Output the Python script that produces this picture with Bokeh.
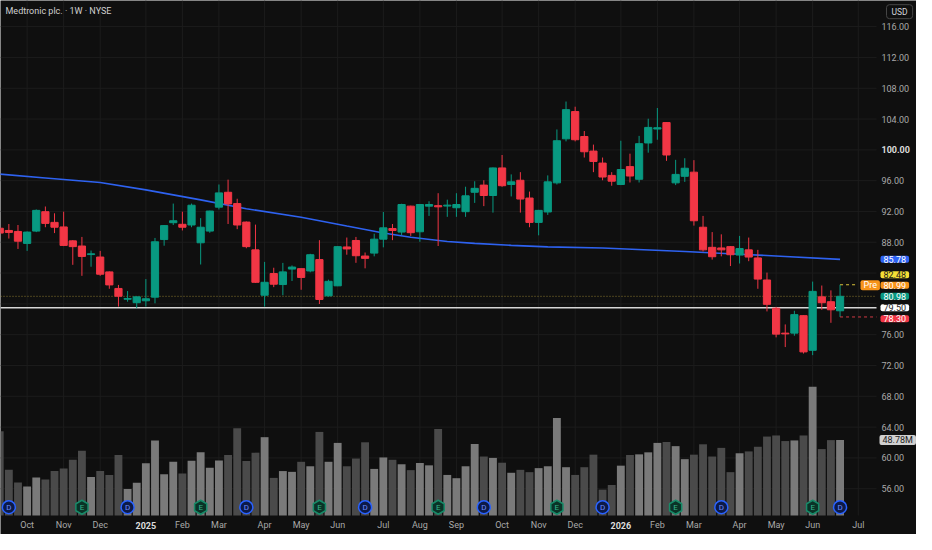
from bokeh.plotting import figure
from bokeh.models import Range1d, Label, ColumnDataSource
from bokeh.embed import file_html
from bokeh.resources import INLINE
from bokeh.core.properties import value

TITLE = "Medtronic plc. · 1W · NYSE"

# weekly bars, bar 1 = week of 2024-09-09 ... bar 93 = week of 2026-06-15
OPEN = [89.82, 89.53, 89.40, 87.85, 89.45, 91.97, 90.58, 89.99, 88.18, 87.51,
        86.40, 86.08, 84.15, 82.00, 80.60, 80.15, 80.40, 80.87, 88.35, 90.54,
        90.33, 90.24, 87.93, 89.45, 92.56, 94.49, 93.02, 90.62, 87.01, 81.12,
        83.94, 82.51, 84.52, 84.57, 84.27, 85.75, 81.04, 82.34, 87.39, 88.23,
        86.21, 86.59, 88.40, 89.78, 89.32, 92.69, 89.36, 92.69, 92.75, 92.70,
        92.48, 91.97, 94.49, 95.42, 94.07, 97.65, 95.50, 96.05, 93.74, 90.58,
        91.93, 95.71, 101.43, 104.97, 101.73, 99.84, 98.28, 96.68, 95.50, 97.82,
        96.18, 100.89, 102.70, 103.54, 95.71, 96.56, 97.10, 89.95, 87.34, 87.26,
        87.43, 86.34, 87.01, 85.96, 83.10, 79.44, 76.20, 76.20, 78.47, 73.97,
        80.91, 80.28, 79.10]
HIGH = [90.20, 90.37, 90.24, 89.40, 92.26, 92.64, 91.76, 91.97, 88.27, 88.69,
        86.92, 86.88, 84.20, 82.46, 81.66, 80.95, 83.22, 88.56, 90.24, 93.02,
        91.97, 93.02, 91.13, 92.10, 95.50, 96.13, 93.65, 90.70, 90.29, 85.45,
        84.69, 85.32, 84.99, 84.60, 86.50, 88.27, 83.14, 87.50, 88.61, 88.69,
        86.67, 89.11, 91.93, 90.37, 93.00, 92.75, 92.95, 93.32, 94.37, 93.53,
        94.37, 95.21, 95.92, 96.05, 97.70, 99.33, 96.81, 97.10, 94.58, 92.20,
        96.68, 102.65, 106.27, 105.60, 102.44, 100.68, 99.00, 97.10, 101.18, 99.50,
        101.81, 104.04, 105.43, 103.60, 98.70, 98.91, 98.66, 91.42, 89.32, 89.03,
        87.50, 88.82, 88.61, 87.01, 84.06, 79.60, 77.33, 79.10, 78.50, 82.89,
        82.38, 81.75, 82.48]
LOW = [88.90, 88.48, 87.13, 86.88, 89.32, 89.95, 89.19, 87.50, 85.07, 83.64,
       84.82, 83.64, 81.96, 79.65, 80.28, 79.44, 79.65, 80.07, 87.55, 90.24,
       89.53, 89.95, 85.11, 89.23, 92.26, 90.37, 89.70, 87.22, 82.72, 79.65,
       82.17, 81.12, 82.97, 81.83, 84.10, 79.98, 80.95, 82.30, 86.38, 85.33,
       84.61, 86.17, 87.34, 88.27, 88.90, 88.82, 88.06, 91.42, 87.51, 91.30,
       91.30, 91.30, 93.11, 92.69, 91.85, 95.20, 93.95, 91.85, 89.95, 88.90,
       91.55, 95.50, 101.10, 101.10, 99.00, 97.10, 96.05, 95.34, 95.42, 95.76,
       95.76, 99.63, 101.31, 98.57, 95.42, 95.84, 90.16, 86.80, 85.75, 86.17,
       84.91, 85.24, 85.54, 81.96, 79.02, 75.65, 74.39, 75.86, 73.55, 73.34,
       79.23, 77.54, 78.30]
CLOSE = [89.19, 89.28, 88.14, 89.32, 92.14, 90.45, 89.95, 87.59, 87.43, 86.16,
         86.50, 83.85, 82.46, 80.99, 80.70, 80.91, 80.66, 88.06, 90.16, 90.79,
         89.95, 92.81, 89.95, 92.05, 94.41, 92.98, 90.24, 87.43, 82.80, 82.80,
         82.55, 84.15, 84.78, 83.43, 86.38, 80.57, 82.93, 87.43, 87.13, 86.25,
         85.91, 88.40, 89.87, 89.53, 92.90, 89.24, 92.90, 92.90, 92.60, 92.82,
         92.90, 94.03, 95.00, 94.07, 97.65, 95.34, 95.84, 93.61, 90.58, 92.14,
         95.84, 101.18, 105.22, 101.31, 99.75, 98.49, 96.47, 95.93, 97.44, 96.60,
         100.80, 102.91, 102.87, 99.33, 96.81, 97.61, 90.79, 87.01, 86.12, 87.01,
         86.38, 87.18, 86.08, 83.22, 79.94, 76.07, 76.10, 78.60, 73.76, 81.62,
         80.15, 79.23, 80.98]
VOLUME_M = [54.4, 29.5, 21.3, 18.8, 24.5, 23.2, 28.7, 30.3, 36.0, 41.8,
            24.9, 28.7, 26.2, 39.1, 17.2, 21.1, 33.7, 48.5, 26.6, 34.7,
            27.2, 35.4, 40.8, 30.8, 35.6, 39.1, 56.3, 35.2, 40.6, 50.6,
            24.3, 28.7, 28.2, 34.7, 31.8, 54.0, 34.7, 46.9, 31.8, 36.8,
            47.3, 30.1, 37.5, 36.0, 33.1, 29.3, 33.9, 32.4, 55.9, 26.2,
            24.1, 31.8, 46.2, 38.1, 37.2, 34.1, 27.6, 29.5, 28.0, 30.6,
            31.8, 63.0, 31.2, 26.2, 31.2, 39.3, 16.7, 19.7, 32.2, 39.1,
            39.5, 40.8, 46.9, 47.5, 44.8, 36.4, 39.3, 46.0, 38.1, 43.7,
            28.0, 40.2, 41.4, 44.4, 51.0, 51.7, 48.1, 48.5, 51.7, 83.1,
            42.9, 48.7, 48.78]
MA_BARS = [1, 6, 12, 17, 23, 28, 34, 39, 43, 46, 50, 53, 57, 61, 67, 76, 82, 87, 93]
MA_VALUES = [96.85, 96.35, 95.75, 94.80, 93.50, 92.35, 91.25, 90.10, 89.20, 88.65, 88.10,
             87.85, 87.60, 87.40, 87.25, 86.80, 86.45, 86.15, 85.78]
MONTH_BARS = [4, 8, 12, 17, 21, 25, 30, 34, 38, 43, 47, 51, 56, 60, 64, 69, 73, 77, 82, 86, 90, 95]
MONTH_LABELS = ["Oct", "Nov", "Dec", "2025", "Feb", "Mar", "Apr", "May", "Jun", "Jul", "Aug",
                "Sep", "Oct", "Nov", "Dec", "2026", "Feb", "Mar", "Apr", "May", "Jun", "Jul"]
PRICE_TICKS = [56, 60, 64, 68, 72, 76, 80, 84, 88, 92, 96, 100, 104, 108, 112, 116]
HIDDEN_TICKS = [80, 84]          # covered by the price tags
DIVIDEND_BARS = [2, 15, 28, 41, 54, 67, 80, 93]
EARNINGS_BARS = [10, 23, 36, 49, 62, 75, 90]
PRE_PRICE = 80.99
LEVEL_PRICE = 79.50

# ---------------- layout ----------------
BG = "#0f0f0f"
GRID = "#1c1c1c"
TXT = "#a9a9a9"
BRIGHT = "#dcdcdc"
UP, DOWN = "#089981", "#f23645"
FONT = "Roboto"
W, H = 916, 534
FW, FH = 876, 515            # price/volume pane inside the canvas
X0, X1 = 1.086, 96.99        # bar index at pane left / right edge
Y0, Y1 = 52.52, 119.39       # price at pane bottom / top
VOL_TOP = 332.7              # volume (M) at pane top
SY = FH / 530.0

XR = X0 + W * (X1 - X0) / FW
YR = Y1 - H * (Y1 - Y0) / FH
VR = -(H - FH) * VOL_TOP / FH


def fx(px):
    return X0 + px * (X1 - X0) / FW


def fy(py):
    return Y1 - py * (Y1 - Y0) / FH


def ypx(price):
    return (Y1 - price) * FH / (Y1 - Y0)


p = figure(width=W, height=H, x_range=Range1d(X0, XR), y_range=Range1d(YR, Y1),
           output_backend="svg", toolbar_location=None,
           x_axis_location=None, y_axis_location=None, min_border=0)
p.background_fill_color = BG
p.border_fill_color = BG
p.outline_line_color = None
p.grid.visible = False
p.extra_y_ranges = {"vol": Range1d(VR, VOL_TOP)}

# grid lines (limited to the pane)
p.segment(x0=MONTH_BARS, y0=[Y0] * len(MONTH_BARS), x1=MONTH_BARS, y1=[Y1] * len(MONTH_BARS),
          line_color=GRID, line_width=1)
p.segment(x0=[X0] * len(PRICE_TICKS), y0=PRICE_TICKS, x1=[X1] * len(PRICE_TICKS), y1=PRICE_TICKS,
          line_color=GRID, line_width=1)

# data
n = len(CLOSE)
xs = list(range(1, n + 1))
up = [c >= o for o, c in zip(OPEN, CLOSE)]
src = ColumnDataSource(dict(
    x=xs, open=OPEN, high=HIGH, low=LOW, close=CLOSE,
    top=[max(o, c) for o, c in zip(OPEN, CLOSE)],
    bottom=[min(o, c) for o, c in zip(OPEN, CLOSE)],
    color=[UP if u else DOWN for u in up],
    vol=VOLUME_M,
    vcolor=["#7a7a7a" if u else "#4a4a4a" for u in up],
))

# volume
p.vbar(x="x", width=0.86, top="vol", bottom=0, fill_color="vcolor", line_color=None,
       y_range_name="vol", source=src)

# moving average
p.line(MA_BARS, MA_VALUES, line_color="#2e62f0", line_width=1.6)

# price lines
p.segment(x0=[X0], y0=[CLOSE[-1]], x1=[X1], y1=[CLOSE[-1]], line_color="#b09a38",
          line_alpha=0.75, line_width=1, line_dash="1 2")
p.segment(x0=[X0], y0=[LEVEL_PRICE], x1=[X1], y1=[LEVEL_PRICE], line_color="#d6d6d6",
          line_width=1.6)

# candles
p.segment(x0="x", y0="low", x1="x", y1="high", line_color="color", line_width=1, source=src)
p.vbar(x="x", width=0.79, top="top", bottom="bottom", fill_color="color", line_color="color",
       line_width=1, source=src)

# high / low dashed lines of the last bar
pre_left = FW - 19
p.segment(x0=[n], y0=[HIGH[-1]], x1=[fx(pre_left)], y1=[HIGH[-1]], line_color="#d8c23a",
          line_dash="3 3", line_width=1)
p.segment(x0=[n], y0=[LOW[-1]], x1=[X1], y1=[LOW[-1]], line_color="#d13a45",
          line_dash="3 3", line_width=1)

# event markers
MY = fy(521.5 * SY)
p.scatter(DIVIDEND_BARS, [MY] * len(DIVIDEND_BARS), marker="circle", size=13,
          fill_color="#0c1a48", line_color="#2962ff", line_width=1.5)
p.text(DIVIDEND_BARS, [MY] * len(DIVIDEND_BARS), text=["D"] * len(DIVIDEND_BARS),
       text_font=value(FONT), text_font_size="8px", text_color="#6d8cff",
       text_align="center", text_baseline="middle")
p.scatter(EARNINGS_BARS, [MY] * len(EARNINGS_BARS), marker="hex", angle=0.5236, size=14,
          fill_color="#0a3327", line_color="#178a68", line_width=1.5)
p.text(EARNINGS_BARS, [MY] * len(EARNINGS_BARS), text=["E"] * len(EARNINGS_BARS),
       text_font=value(FONT), text_font_size="8px", text_color="#35b58c",
       text_align="center", text_baseline="middle")

# price scale labels
ticks_n = [t for t in PRICE_TICKS if t not in HIDDEN_TICKS and t != 100]
p.text([fx(FW + 5)] * len(ticks_n), ticks_n, text=[f"{t:.2f}" for t in ticks_n],
       text_font=value(FONT), text_font_size="9px", text_color=TXT,
       text_align="left", text_baseline="middle")
p.text([fx(FW + 5)], [100], text=["100.00"], text_font=value(FONT), text_font_size="9px",
       text_font_style="bold", text_color=BRIGHT, text_align="left", text_baseline="middle")

# time scale labels
TY = fy(FH + 9.5)
mb = [b for b, l in zip(MONTH_BARS, MONTH_LABELS) if not l.isdigit()]
ml = [l for l in MONTH_LABELS if not l.isdigit()]
yb = [b for b, l in zip(MONTH_BARS, MONTH_LABELS) if l.isdigit()]
yl = [l for l in MONTH_LABELS if l.isdigit()]
p.text(mb, [TY] * len(mb), text=ml, text_font=value(FONT), text_font_size="9px",
       text_color=TXT, text_align="center", text_baseline="middle")
p.text(yb, [TY] * len(yb), text=yl, text_font=value(FONT), text_font_size="9px",
       text_font_style="bold", text_color=BRIGHT, text_align="center", text_baseline="middle")


def tag(x, y, text, bg, fg, **kw):
    p.add_layout(Label(x=x, y=y, text=text, text_font=FONT, text_font_size="9px",
                       text_color=fg, text_align="left", text_baseline="middle",
                       background_fill_color=bg, padding=(3, 0), border_radius=2, **kw))


# title
p.add_layout(Label(x=fx(5), y=fy(11 * SY), text=TITLE, text_font=FONT, text_font_size="9px",
                   text_color="#cfcfcf", text_align="left", text_baseline="middle"))
# currency button
p.add_layout(Label(x=fx(FW + 10), y=fy(11.5 * SY), text="USD", text_font=FONT,
                   text_font_size="8.5px", text_color="#d1d4dc", text_align="left",
                   text_baseline="middle", background_fill_color=BG,
                   border_line_color="#454545", border_radius=3, padding=(5, 2)))

# price tags on the scale
tx = fx(FW + 4)
anchor = ypx(CLOSE[-1])
tag(tx, MA_VALUES[-1], f"{MA_VALUES[-1]:.2f}", "#2e63f5", "#ffffff")
tag(tx, fy(anchor - 21.5), f"{HIGH[-1]:.2f}", "#f5df36", "#1a1a1a")
tag(tx, fy(anchor - 11), f"{PRE_PRICE:.2f}", "#f7931a", "#ffffff")
tag(fx(pre_left + 3), fy(anchor - 11), "Pre", "#f7931a", "#ffffff")
tag(tx, CLOSE[-1], f"{CLOSE[-1]:.2f}", UP, "#ffffff")
lvl = max(ypx(LEVEL_PRICE), anchor + 11)
tag(tx, fy(lvl), f"{LEVEL_PRICE:.2f}", "#ffffff", "#1a1a1a")
tag(tx, fy(max(ypx(LOW[-1]), lvl + 11)), f"{LOW[-1]:.2f}", DOWN, "#ffffff")
tag(fx(FW + 3), VOLUME_M[-1], f"{VOLUME_M[-1]:.2f}M", "#d0d0d0", "#222222",
    y_range_name="vol")

open("out.html", "w").write(file_html(p, INLINE))
